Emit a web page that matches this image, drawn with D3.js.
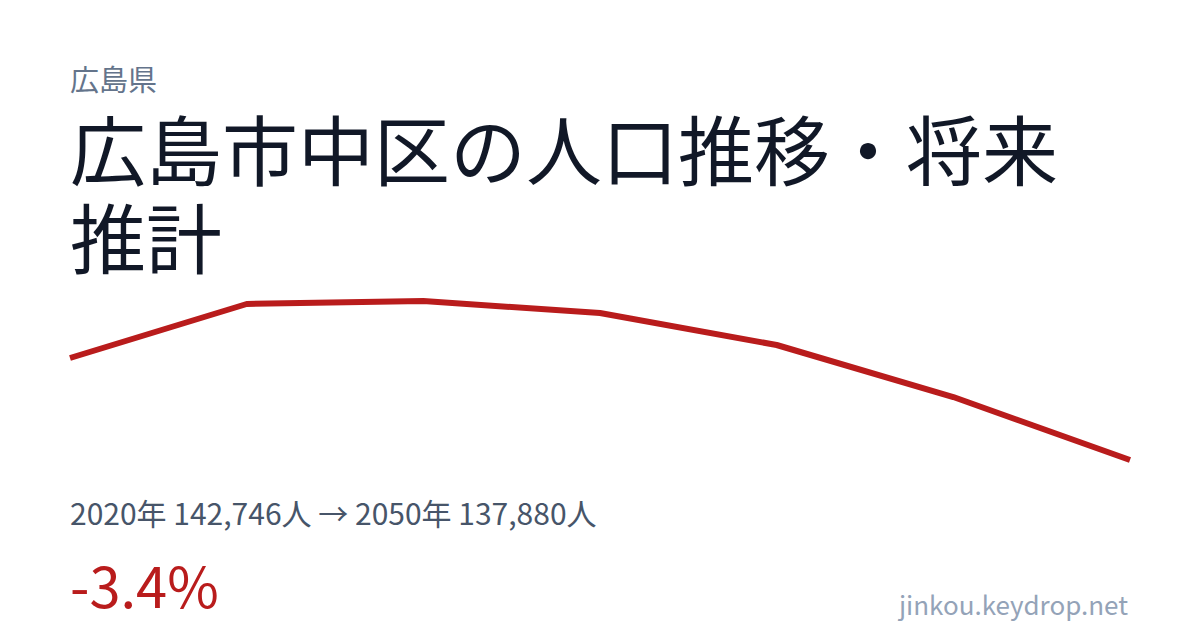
<!DOCTYPE html>
<html lang="ja">
<head>
<meta charset="utf-8">
<script src="https://cdn.jsdelivr.net/npm/d3@7"></script>
<style>
  html, body { margin: 0; padding: 0; background: #fff; }
  svg { display: block; font-family: "Noto Sans CJK JP", "Noto Sans", sans-serif; }
</style>
</head>
<body>
<svg id="chart" width="1200" height="630"></svg>
<script>
const years = [2020, 2025, 2030, 2035, 2040, 2045, 2050];
const population = [142746, 145322, 145465, 144893, 143366, 140885, 137880];

const prefecture = '広島県';
const titleLines = ['広島市中区の人口推移・将来', '推計'];
const site = 'jinkou.keydrop.net';

const width = 1200;
const height = 630;
const left = 70;
const right = 1130;

const svg = d3.select('#chart');
svg.selectAll('*').remove();

svg.append('rect').attr('width', width).attr('height', height).attr('fill', '#ffffff');

// header
svg.append('text')
  .attr('x', left)
  .attr('y', 91)
  .attr('fill', '#64748b')
  .style('font-size', '29px')
  .text(prefecture);

svg.append('g')
  .selectAll('text')
  .data(titleLines)
  .enter()
  .append('text')
  .attr('x', left)
  .attr('y', (d, i) => 180 + i * 88)
  .attr('fill', '#111827')
  .style('font-size', '76px')
  .text((d) => d);

// sparkline
const x = d3.scaleLinear().domain(d3.extent(years)).range([left, right]);
const y = d3.scaleLinear().domain(d3.extent(population)).range([460, 301]);

const line = d3
  .line()
  .x((d, i) => x(years[i]))
  .y((d) => y(d));

svg.append('path')
  .datum(population)
  .attr('d', line)
  .attr('fill', 'none')
  .attr('stroke', '#b91c1c')
  .attr('stroke-width', 6)
  .attr('stroke-linejoin', 'round');

// summary
const first = population[0];
const last = population[population.length - 1];
const fmt = d3.format(',');
const change = ((last - first) / first) * 100;

svg.append('text')
  .attr('x', left)
  .attr('y', 525)
  .attr('fill', '#475569')
  .style('font-size', '30px')
  .text(`${years[0]}年 ${fmt(first)}人 → ${years[years.length - 1]}年 ${fmt(last)}人`);

svg.append('text')
  .attr('x', left)
  .attr('y', 608)
  .attr('fill', '#b91c1c')
  .style('font-size', '56px')
  .text(`${change.toFixed(1)}%`);

svg.append('text')
  .attr('x', right - 2)
  .attr('y', 615)
  .attr('text-anchor', 'end')
  .attr('fill', '#94a3b8')
  .style('font-size', '26px')
  .text(site);
</script>
</body>
</html>
